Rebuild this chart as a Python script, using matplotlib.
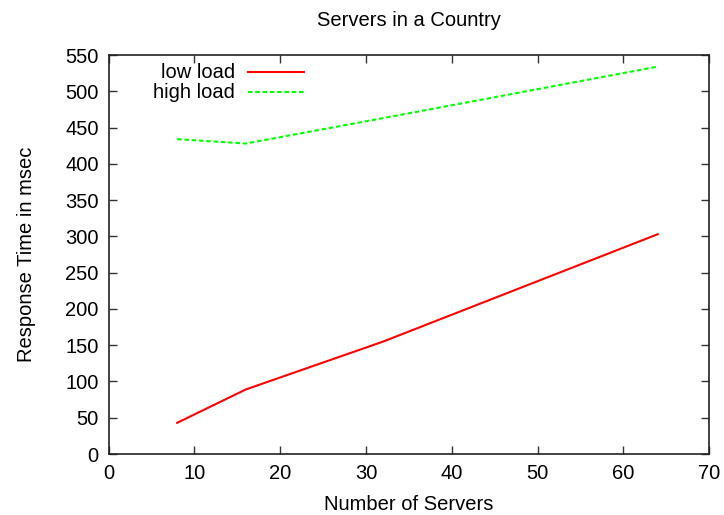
import matplotlib
matplotlib.use('Agg')
import matplotlib.pyplot as plt

plt.rcParams['font.family'] = ['Liberation Sans', 'DejaVu Sans']

# data
servers = [8, 16, 32, 64]
low_load = [43, 89, 155, 303]
high_load = [434, 428, 463, 534]

x_ticks = [0, 10, 20, 30, 40, 50, 60, 70]
y_ticks = [0, 50, 100, 150, 200, 250, 300, 350, 400, 450, 500, 550]

fs = 14.5

fig = plt.figure(figsize=(7.24, 5.15), dpi=100)
ax = fig.add_axes([0.1499, 0.1184, 0.9797 - 0.1499, 0.8932 - 0.1184])

ax.plot(servers, low_load, color='#ff0000', lw=1.5)
ax.plot(servers, high_load, color='#00ff00', lw=1.5, dashes=(2.2, 1.3))

ax.set_xlim(0, 70)
ax.set_ylim(0, 550)
ax.set_xticks(x_ticks)
ax.set_yticks(y_ticks)
ax.tick_params(direction='in', length=6, width=1, top=True, right=True,
               labelsize=fs, pad=7, color='#333333')
for sp in ax.spines.values():
    sp.set_linewidth(1.2)
    sp.set_color('#222222')

fig.text(0.5 * (0.1499 + 0.9797), 1 - 20 / 515, 'Servers in a Country',
         fontsize=fs, ha='center', va='center')
ax.set_xlabel('Number of Servers', fontsize=fs)
ax.xaxis.set_label_coords(0.5, -0.127)
ax.xaxis.label.set_va('center')
ax.set_ylabel('Response Time in msec', fontsize=fs)
ax.yaxis.set_label_coords(-0.137, 0.5)
ax.yaxis.label.set_va('center')

# gnuplot style key: label right-aligned, sample on the right
key = [('low load', '#ff0000', None, 0.957), ('high load', '#00ff00', (2.2, 1.3), 0.907)]
for label, col, dash, ky in key:
    ax.text(0.2105, ky, label, transform=ax.transAxes, ha='right', va='center', fontsize=fs)
    ln, = ax.plot([0.2322, 0.3254], [ky, ky], transform=ax.transAxes, color=col, lw=1.5)
    if dash:
        ln.set_dashes(dash)

fig.savefig('out.png', dpi=100)
